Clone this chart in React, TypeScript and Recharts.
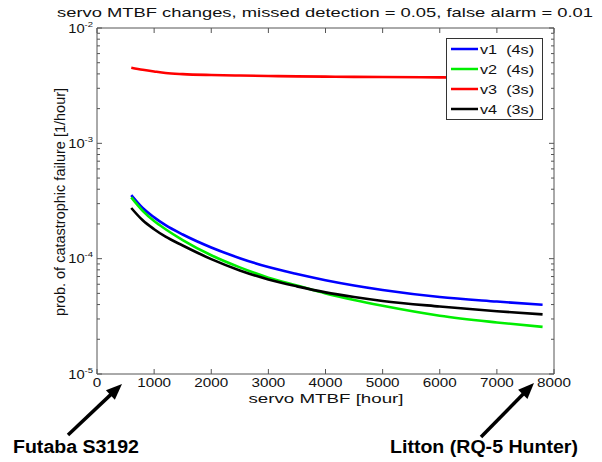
import React from "react";
import { LineChart, Line, XAxis, YAxis, Legend, ReferenceLine } from "recharts";

// servo MTBF [hour]
const hours = [600, 800, 1000, 1200, 1500, 2000, 2500, 3000, 3500, 4000, 4500, 5000, 6000, 7000, 7800];

// prob. of catastrophic failure [1/hour]
const v1 = [3.56e-4, 2.75e-4, 2.28e-4, 1.95e-4, 1.62e-4, 1.25e-4, 1.01e-4, 8.45e-5, 7.35e-5, 6.5e-5, 5.85e-5, 5.35e-5, 4.65e-5, 4.25e-5, 3.98e-5];
const v2 = [3.4e-4, 2.6e-4, 2.12e-4, 1.8e-4, 1.45e-4, 1.07e-4, 8.4e-5, 6.85e-5, 5.85e-5, 5.0e-5, 4.38e-5, 3.9e-5, 3.2e-5, 2.8e-5, 2.56e-5];
const v3 = [4.53e-3, 4.35e-3, 4.2e-3, 4.07e-3, 3.98e-3, 3.91e-3, 3.87e-3, 3.84e-3, 3.81e-3, 3.79e-3, 3.77e-3, 3.76e-3, 3.73e-3, 3.72e-3, 3.71e-3];
const v4 = [2.75e-4, 2.15e-4, 1.8e-4, 1.55e-4, 1.3e-4, 9.9e-5, 7.9e-5, 6.6e-5, 5.75e-5, 5.1e-5, 4.65e-5, 4.3e-5, 3.85e-5, 3.5e-5, 3.29e-5];

const seriesNames = ["v1  (4s)", "v2  (4s)", "v3  (3s)", "v4  (3s)"];
const seriesColors = ["#0000ff", "#00ee00", "#ff0000", "#000000"];

const xTicks = [0, 1000, 2000, 3000, 4000, 5000, 6000, 7000, 8000];
const decades = [1e-5, 1e-4, 1e-3, 1e-2];
const minorSteps = [2, 3, 4, 5, 6, 7, 8, 9];

const title = "servo MTBF changes, missed detection = 0.05, false alarm = 0.01";
const xLabel = "servo MTBF [hour]";
const yLabel = "prob. of catastrophic failure [1/hour]";

const data = hours.map((h, i) => ({ h, v1: v1[i], v2: v2[i], v3: v3[i], v4: v4[i] }));

const yTicks: number[] = [];
decades.forEach((d, i) => {
  yTicks.push(d);
  if (i < decades.length - 1) minorSteps.forEach((m) => yTicks.push(m * d));
});

const W = 602;
const H = 462;
const PLOT_W = 457;
const PLOT_H = 346;
const AXIS = "#555";
const FONT = "'Liberation Sans', Arial, sans-serif";

function XTick(props: any) {
  const { x, y, payload } = props;
  return (
    <g>
      <line x1={x} x2={x} y1={y} y2={y - 5} stroke={AXIS} />
      <line x1={x} x2={x} y1={y - PLOT_H} y2={y - PLOT_H + 5} stroke={AXIS} />
      <text
        transform={`translate(${x},${y + 13}) scale(1.22,1)`}
        textAnchor="middle"
        fontSize={12.5}
        fill="#111"
        fontFamily={FONT}
      >
        {payload.value}
      </text>
    </g>
  );
}

function YTick(props: any) {
  const { x, y, payload } = props;
  const e = Math.log10(payload.value);
  const major = Math.abs(e - Math.round(e)) < 1e-6;
  const len = major ? 5 : 3;
  return (
    <g>
      <line x1={x} x2={x + len} y1={y} y2={y} stroke={AXIS} />
      <line x1={x + PLOT_W} x2={x + PLOT_W - len} y1={y} y2={y} stroke={AXIS} />
      {major && (
        <text
          transform={`translate(${x - 4},${y + 4.5}) scale(1.18,1)`}
          textAnchor="end"
          fontSize={12.5}
          fill="#111"
          fontFamily={FONT}
        >
          10
          <tspan dy={-6} fontSize={8}>
            {Math.round(e)}
          </tspan>
        </text>
      )}
    </g>
  );
}

function LegendBox(props: any) {
  const { payload = [] } = props;
  return (
    <svg width={97} height={82}>
      <rect x={0.5} y={0.5} width={96} height={81} fill="#fff" stroke="#333" />
      {payload.map((p: any, i: number) => {
        const cy = 11 + i * 20;
        return (
          <g key={p.value}>
            <line x1={5} x2={32} y1={cy} y2={cy} stroke={p.color} strokeWidth={2.5} />
            <text
              transform={`translate(34,${cy + 4.5}) scale(1.3,1)`}
              fontSize={12.5}
              fill="#111"
              fontFamily={FONT}
              style={{ whiteSpace: "pre" }}
            >
              {p.value}
            </text>
          </g>
        );
      })}
    </svg>
  );
}

function Arrow({ from, to }: { from: [number, number]; to: [number, number] }) {
  const dx = to[0] - from[0];
  const dy = to[1] - from[1];
  const len = Math.hypot(dx, dy);
  const ux = dx / len;
  const uy = dy / len;
  const hl = 16;
  const hw = 6.5;
  const bx = to[0] - ux * hl;
  const by = to[1] - uy * hl;
  const pts = `${to[0]},${to[1]} ${bx - uy * hw},${by + ux * hw} ${bx + uy * hw},${by - ux * hw}`;
  return (
    <g>
      <line x1={from[0]} y1={from[1]} x2={bx + ux * 2} y2={by + uy * 2} stroke="#000" strokeWidth={3.5} />
      <polygon points={pts} fill="#000" />
    </g>
  );
}

export default function App() {
  const keys = ["v1", "v2", "v3", "v4"];
  return (
    <div style={{ position: "absolute", left: 0, top: 0, width: W, height: H, background: "#fff", fontFamily: FONT }}>
      <LineChart width={W} height={H} data={data} margin={{ top: 28, right: 48, bottom: 58, left: 0 }}>
        <XAxis
          dataKey="h"
          type="number"
          domain={[0, 8000]}
          ticks={xTicks}
          interval={0}
          tickLine={false}
          tickSize={0}
          tickMargin={0}
          tick={(p: any) => <XTick {...p} />}
          axisLine={{ stroke: AXIS }}
          height={30}
        />
        <YAxis
          type="number"
          scale="log"
          domain={[1e-5, 1e-2]}
          allowDataOverflow
          ticks={yTicks}
          interval={0}
          tickLine={false}
          tickSize={0}
          tickMargin={0}
          tick={(p: any) => <YTick {...p} />}
          axisLine={{ stroke: AXIS }}
          width={97}
        />
        <ReferenceLine y={1e-2} stroke={AXIS} ifOverflow="visible" />
        <ReferenceLine x={8000} stroke={AXIS} ifOverflow="visible" />
        {keys.map((k, i) => (
          <Line
            key={k}
            dataKey={k}
            name={seriesNames[i]}
            stroke={seriesColors[i]}
            strokeWidth={2.6}
            type="monotone"
            dot={false}
            isAnimationActive={false}
          />
        ))}
        <Legend
          layout="vertical"
          align="center"
          verticalAlign="middle"
          wrapperStyle={{ left: 446, top: 38, width: 97, height: 82 }}
          content={(p: any) => <LegendBox {...p} />}
        />
      </LineChart>
      <svg width={W} height={H} style={{ position: "absolute", left: 0, top: 0, pointerEvents: "none" }}>
        <text x={325} y={17} textAnchor="middle" fontSize={13.5} textLength={536} lengthAdjust="spacingAndGlyphs" fill="#111">
          {title}
        </text>
        <text x={326} y={403} textAnchor="middle" fontSize={13.5} textLength={155} lengthAdjust="spacingAndGlyphs" fill="#111">
          {xLabel}
        </text>
        <text transform="translate(65,202) rotate(-90)" textAnchor="middle" fontSize={14.5} fill="#111">
          {yLabel}
        </text>
        <Arrow from={[68, 435]} to={[122, 384]} />
        <Arrow from={[481, 437]} to={[534, 383]} />
        <text x={13} y={453} fontSize={18} fontWeight="bold" textLength={126} lengthAdjust="spacingAndGlyphs" fill="#000">
          Futaba S3192
        </text>
        <text x={390} y={453} fontSize={18} fontWeight="bold" textLength={188} lengthAdjust="spacingAndGlyphs" fill="#000">
          Litton (RQ-5 Hunter)
        </text>
      </svg>
    </div>
  );
}
